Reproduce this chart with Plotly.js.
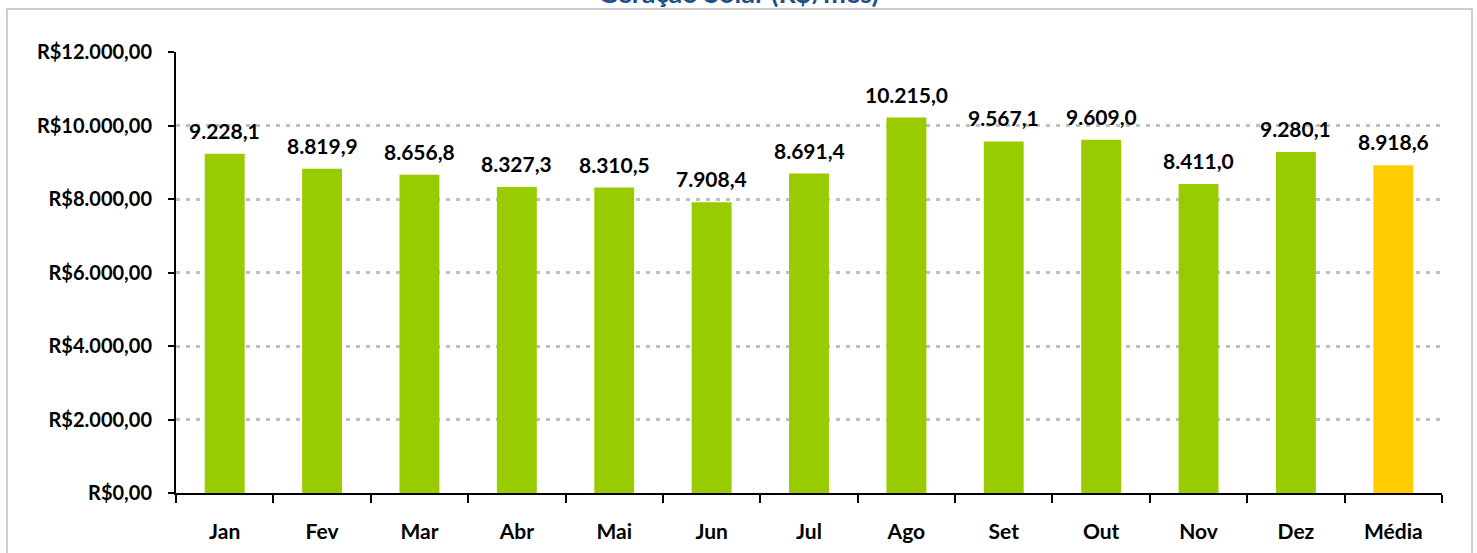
<!DOCTYPE html>
<html>
<head>
<meta charset="utf-8">
<script src="https://cdn.plot.ly/plotly-3.0.1.min.js"></script>
<style>
html,body{margin:0;padding:0;background:#fff;overflow:hidden;}
#chart{width:1477px;height:553px;}
</style>
</head>
<body>
<div id="chart"></div>
<script>
const categories = ["Jan","Fev","Mar","Abr","Mai","Jun","Jul","Ago","Set","Out","Nov","Dez","Média"];
const values = [9228.1, 8819.9, 8656.8, 8327.3, 8310.5, 7908.4, 8691.4, 10215.0, 9567.1, 9609.0, 8411.0, 9280.1, 8918.6];
const barColors = ["#99CC00","#99CC00","#99CC00","#99CC00","#99CC00","#99CC00","#99CC00","#99CC00","#99CC00","#99CC00","#99CC00","#99CC00","#FFCC00"];
const yTickVals = [0, 2000, 4000, 6000, 8000, 10000, 12000];
const yTickText = ["R$0,00","R$2.000,00","R$4.000,00","R$6.000,00","R$8.000,00","R$10.000,00","R$12.000,00"];
const titleText = "Geração Solar (R$/mês)";

const FONT = "Lato, 'Open Sans', sans-serif";

function fmt(v){
  const parts = v.toFixed(1).split(".");
  const intPart = parts[0].replace(/\B(?=(\d{3})+(?!\d))/g, ".");
  return intPart + "," + parts[1];
}

const W = 1477, H = 553;
const L = 176, R = 35, T = 52, B = 60;
const pw = W - L - R, ph = H - T - B;
function px2paperX(px){ return (px - L) / pw; }
function px2paperY(py){ return (H - B - py) / ph; }

const trace = {
  type: "bar",
  x: categories,
  y: values,
  marker: {color: barColors, line: {width: 0}},
  width: 0.41,
  hoverinfo: "none"
};

const annotations = categories.map((c, i) => ({
  x: c, y: values[i], xref: "x", yref: "y",
  text: "<b>" + fmt(values[i]) + "</b>",
  showarrow: false, yanchor: "bottom", yshift: 9,
  font: {family: FONT, size: 21, color: "#000000"}
}));

annotations.push({
  xref: "paper", yref: "paper",
  x: px2paperX(738), y: px2paperY(11),
  xanchor: "center", yanchor: "bottom",
  text: "<b>" + titleText + "</b>",
  showarrow: false,
  font: {family: FONT, size: 27, color: "#1F4E8C"}
});

const layout = {
  width: W, height: H,
  margin: {l: L, r: R, t: T, b: B, pad: 0},
  paper_bgcolor: "#ffffff",
  plot_bgcolor: "#ffffff",
  showlegend: false,
  bargap: 0.59,
  xaxis: {
    type: "category",
    showline: true, linecolor: "#000000", linewidth: 2,
    ticks: "outside", tickson: "boundaries", ticklen: 8, tickwidth: 2, tickcolor: "#000000",
    tickfont: {family: FONT, size: 21, color: "#000000", weight: "bold"},
    ticklabelstandoff: 19,
    showgrid: false, zeroline: false,
    fixedrange: true
  },
  yaxis: {
    range: [0, 12000],
    tickvals: yTickVals, ticktext: yTickText,
    showline: true, linecolor: "#000000", linewidth: 2,
    ticks: "outside", ticklen: 6, tickwidth: 2, tickcolor: "#000000",
    tickfont: {family: FONT, size: 20, color: "#000000", weight: "bold"},
    ticklabelstandoff: 12,
    showgrid: true, gridcolor: "#BFBFBF", gridwidth: 3, griddash: "4px,6px",
    zeroline: false,
    fixedrange: true
  },
  annotations: annotations,
  shapes: [{
    type: "rect", xref: "paper", yref: "paper",
    x0: px2paperX(7), x1: px2paperX(1472),
    y0: px2paperY(600), y1: px2paperY(9),
    line: {color: "#BFBFBF", width: 1.5},
    fillcolor: "rgba(0,0,0,0)",
    layer: "below"
  }]
};

Plotly.newPlot("chart", [trace], layout, {displayModeBar: false, staticPlot: true});
</script>
</body>
</html>
